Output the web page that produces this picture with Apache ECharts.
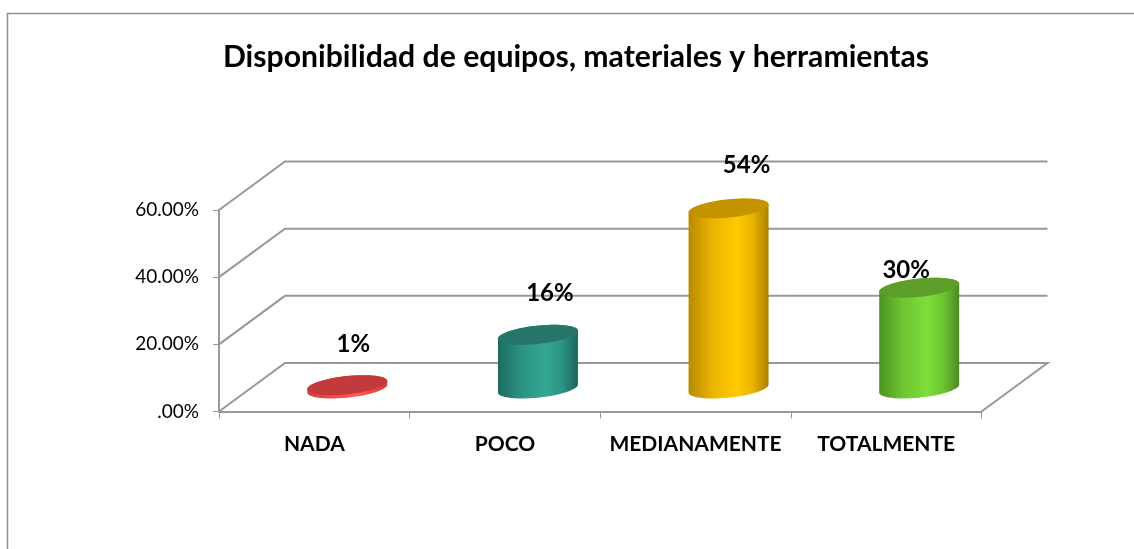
<!DOCTYPE html>
<html>
<head>
<meta charset="utf-8">
<style>html,body{margin:0;padding:0;background:#fff}#c{width:1134px;height:549px}</style>
<script src="https://cdn.jsdelivr.net/npm/echarts@6/dist/echarts.min.js"></script>
</head>
<body>
<div id="c"></div>
<script>
const titleText = 'Disponibilidad de equipos, materiales y herramientas';
const categories = ['NADA', 'POCO', 'MEDIANAMENTE', 'TOTALMENTE'];
const values = [1, 16, 53.6, 30];
const valueLabels = ['1%', '16%', '54%', '30%'];
const yTicks = [0, 20, 40, 60];
const yTickLabels = ['.00%', '20.00%', '40.00%', '60.00%'];

// styling (not data)
const topColors = ['#c23a3a', '#26756a', '#c49400', '#5c9e28'];
const bodyStops = [
  ['#d83c3c', '#ee4c4c', '#fb5a5a', '#d83c3c'],
  ['#1c6b5f', '#2c9484', '#35a594', '#1a6558'],
  ['#b88a00', '#eab400', '#ffca00', '#ab8000'],
  ['#4c9420', '#6fc532', '#7fdd3b', '#4b8a20']
];
const labelNudge = [[6, -41], [12, -42], [18, -43], [-13, -17]];
const DEPTH_X = 66, DEPTH_Y = 48.5, FONT = 'Lato, "Open Sans", sans-serif';
const LINE = '#989898';
const RA = 40.2, RB = 9.1, TILT = -6 * Math.PI / 180;

function ellipsePoint(cx, cy, t) {
  const x = RA * Math.cos(t), y = RB * Math.sin(t);
  return [cx + x * Math.cos(TILT) - y * Math.sin(TILT), cy + x * Math.sin(TILT) + y * Math.cos(TILT)];
}
function ring(cx, cy) {
  const p = [];
  for (let i = 0; i < 72; i++) p.push(ellipsePoint(cx, cy, i / 72 * 2 * Math.PI));
  return p;
}
function bodyPath(cx, cyTop, cyBase) {
  const tRight = Math.atan2(-RB * Math.sin(TILT), RA * Math.cos(TILT));
  const p = [];
  for (let i = 0; i <= 48; i++) p.push(ellipsePoint(cx, cyBase, tRight + i / 48 * Math.PI));
  for (let i = 0; i <= 48; i++) p.push(ellipsePoint(cx, cyTop, tRight + Math.PI + i / 48 * Math.PI));
  return p;
}

function renderWall(params, api) {
  const v = api.value(1);
  const band = api.size([1, 0])[0];
  const start = api.coord([0, v]);
  const x0 = start[0] - band / 2, y = start[1];
  const x1 = x0 + band * categories.length;
  const pts = [[x0, y], [x0 + DEPTH_X, y - DEPTH_Y], [x1 + DEPTH_X, y - DEPTH_Y]];
  if (v === 0) pts.push([x1, y]);
  return {
    type: 'polyline',
    shape: { points: pts },
    style: { stroke: LINE, lineWidth: 2, fill: null }
  };
}

function renderBar(params, api) {
  const i = api.value(0);
  const top = api.coord([i, api.value(1)]);
  const base = api.coord([i, 0]);
  const cx = top[0] + DEPTH_X / 2;
  const cyBase = base[1] - 23;
  const cyTop = top[1] - 23;
  const s = bodyStops[i];
  return {
    type: 'group',
    children: [
      {
        type: 'polygon',
        shape: { points: bodyPath(cx, cyTop, cyBase) },
        style: {
          fill: new echarts.graphic.LinearGradient(0, 0, 1, 0, [
            { offset: 0, color: s[0] },
            { offset: 0.3, color: s[1] },
            { offset: 0.6, color: s[2] },
            { offset: 0.8, color: s[1] },
            { offset: 1, color: s[3] }
          ])
        }
      },
      {
        type: 'polygon',
        shape: { points: ring(cx, cyTop) },
        style: { fill: topColors[i] }
      },
      {
        type: 'text',
        z2: 10,
        style: {
          text: valueLabels[i],
          x: cx + labelNudge[i][0],
          y: cyTop + labelNudge[i][1],
          align: 'center',
          verticalAlign: 'middle',
          font: 'bold 24px ' + FONT,
          fill: '#000'
        }
      }
    ]
  };
}

const chart = echarts.init(document.getElementById('c'), null, { renderer: 'canvas' });
chart.setOption({
  animation: false,
  backgroundColor: '#fff',
  title: {
    text: titleText,
    left: 571, top: 37, textAlign: 'center',
    textStyle: { fontFamily: FONT, fontWeight: 'bold', fontSize: 30.2, color: '#000' }
  },
  graphic: [{
    type: 'rect', silent: true, z: -1,
    shape: { x: 7.5, y: 13.5, width: 1300, height: 700 },
    style: { fill: null, stroke: '#8f8f8f', lineWidth: 1.5 }
  }],
  grid: { left: 219, right: 152.5, top: 210, bottom: 137.5 },
  xAxis: {
    type: 'category',
    data: categories,
    axisLine: { lineStyle: { color: LINE, width: 2 } },
    axisTick: { show: true, length: 7, lineStyle: { color: LINE, width: 1 } },
    axisLabel: { margin: 22, fontFamily: FONT, fontWeight: 'bold', fontSize: 21, color: '#000', interval: 0 }
  },
  yAxis: {
    type: 'value',
    min: 0, max: 60, interval: 20,
    splitLine: { show: false },
    axisLine: { show: true, lineStyle: { color: LINE, width: 2 } },
    axisTick: { show: true, length: 6, lineStyle: { color: LINE, width: 1 } },
    axisLabel: {
      margin: 20, fontFamily: FONT, fontSize: 19, color: '#000',
      formatter: v => yTickLabels[yTicks.indexOf(v)]
    }
  },
  series: [
    { type: 'custom', z: 1, clip: false, silent: true, renderItem: renderWall, data: yTicks.map(v => [0, v]) },
    { type: 'custom', z: 5, clip: false, silent: true, renderItem: renderBar, data: categories.map((c, i) => [i, values[i]]) }
  ]
});
</script>
</body>
</html>
